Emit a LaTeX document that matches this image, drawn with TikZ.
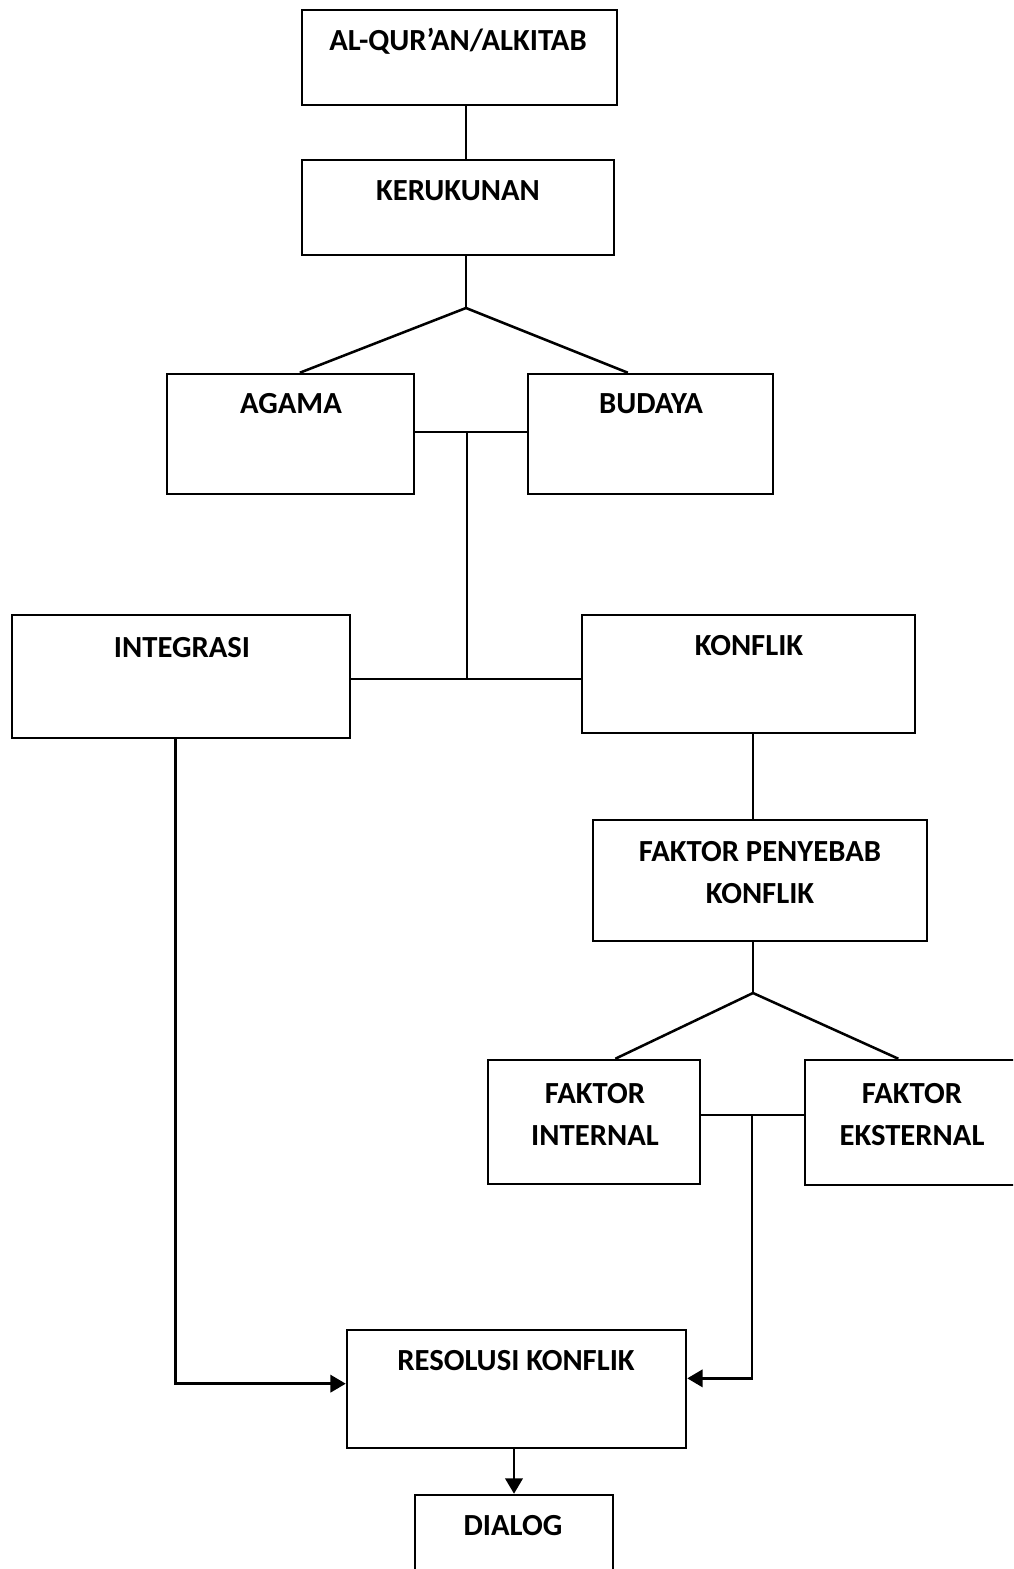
\documentclass[tikz,border=0pt]{standalone}
\usepackage{fontspec}
\setmainfont{Carlito}
\usetikzlibrary{calc, arrows.meta}
\newdimen\px
\px=0.75pt

\begin{document}
\begin{tikzpicture}[x=0.75pt, y=-0.75pt,
            kotak/.style={draw, line width=1.9pt, inner sep=0pt},
            judul/.style={anchor=base, inner sep=0pt, font=\fontsize{23}{31.5}\selectfont\bfseries, align=center},
            garis/.style={line width=1.9pt},
            panah/.style={line width=1.9pt, -{Triangle[length=11.5pt, width=13pt]}}]
            \useasboundingbox (0,0) rectangle (1013,1569);
            \clip (0,0) rectangle (1013,1569);
            \node[kotak, minimum width=315\px, minimum height=95\px] (quran) at (459.5,57.5) {};
            \node[kotak, minimum width=312\px, minimum height=95\px] (keru) at (458,207.5) {};
            \node[kotak, minimum width=247\px, minimum height=120\px] (agama) at (290.5,434) {};
            \node[kotak, minimum width=245\px, minimum height=120\px] (budaya) at (650.5,434) {};
            \node[kotak, minimum width=338\px, minimum height=123\px] (integrasi) at (181,676.5) {};
            \node[kotak, minimum width=333\px, minimum height=118\px] (konflik) at (748.5,674) {};
            \node[kotak, minimum width=334\px, minimum height=121\px] (penyebab) at (760,880.5) {};
            \node[kotak, minimum width=212\px, minimum height=124\px] (internal) at (594,1122) {};
            \node[kotak, minimum width=240\px, minimum height=125\px] (eksternal) at (925,1122.5) {};
            \node[kotak, minimum width=339\px, minimum height=118\px] (resolusi) at (516.5,1389) {};
            \node[kotak, minimum width=198\px, minimum height=105\px] (dialog) at (514,1547.5) {};
            \node[judul] (quranT) at (458,51) {AL-QUR'AN/ALKITAB};
            \node[judul] (keruT) at (458,201) {KERUKUNAN};
            \node[judul] (agamaT) at (291,413) {AGAMA};
            \node[judul] (budayaT) at (651,413) {BUDAYA};
            \node[judul] (integrasiT) at (182,657) {INTEGRASI};
            \node[judul] (konflikT) at (749,655) {KONFLIK};
            \node[judul] (penyebabT) at (760,903) {FAKTOR PENYEBAB\\KONFLIK};
            \node[judul] (internalT) at (595,1145) {FAKTOR\\INTERNAL};
            \node[judul] (eksternalT) at (912,1145) {FAKTOR\\EKSTERNAL};
            \node[judul] (resolusiT) at (516,1370) {RESOLUSI KONFLIK};
            \node[judul] (dialogT) at (513,1535) {DIALOG};
            \coordinate (cab1) at (466,308);
            \coordinate (simpang1) at (467,432);
            \coordinate (simpang2) at (467,679);
            \coordinate (cab2) at (753,993);
            \coordinate (simpang3) at (752,1115);
            \draw[garis] (quran.south -| cab1) -- (keru.north -| cab1);
            \draw[garis] (keru.south -| cab1) -- (cab1);
            \draw[garis] ([xshift=7pt]agama.north) -- (cab1) -- ([xshift=-17pt]budaya.north);
            \draw[garis] (agama.east |- simpang1) -- (budaya.west |- simpang1);
            \draw[garis] (simpang1) -- (simpang2);
            \draw[garis] (integrasi.east |- simpang2) -- (konflik.west |- simpang2);
            \draw[garis] (konflik.south -| cab2) -- (penyebab.north -| cab2);
            \draw[garis] (penyebab.south -| cab2) -- (cab2);
            \draw[garis] ([xshift=16pt]internal.north) -- (cab2) -- ([xshift=-20pt]eksternal.north);
            \draw[garis] (internal.east |- simpang3) -- (eksternal.west |- simpang3);
            \draw[panah] ([xshift=-4pt]integrasi.south) |- ([yshift=4pt]resolusi.west);
            \draw[panah] (simpang3) |- ([yshift=8pt]resolusi.east);
            \draw[panah] (resolusi.south -| dialog.north) -- (dialog.north);
        \end{tikzpicture}
\end{document}
